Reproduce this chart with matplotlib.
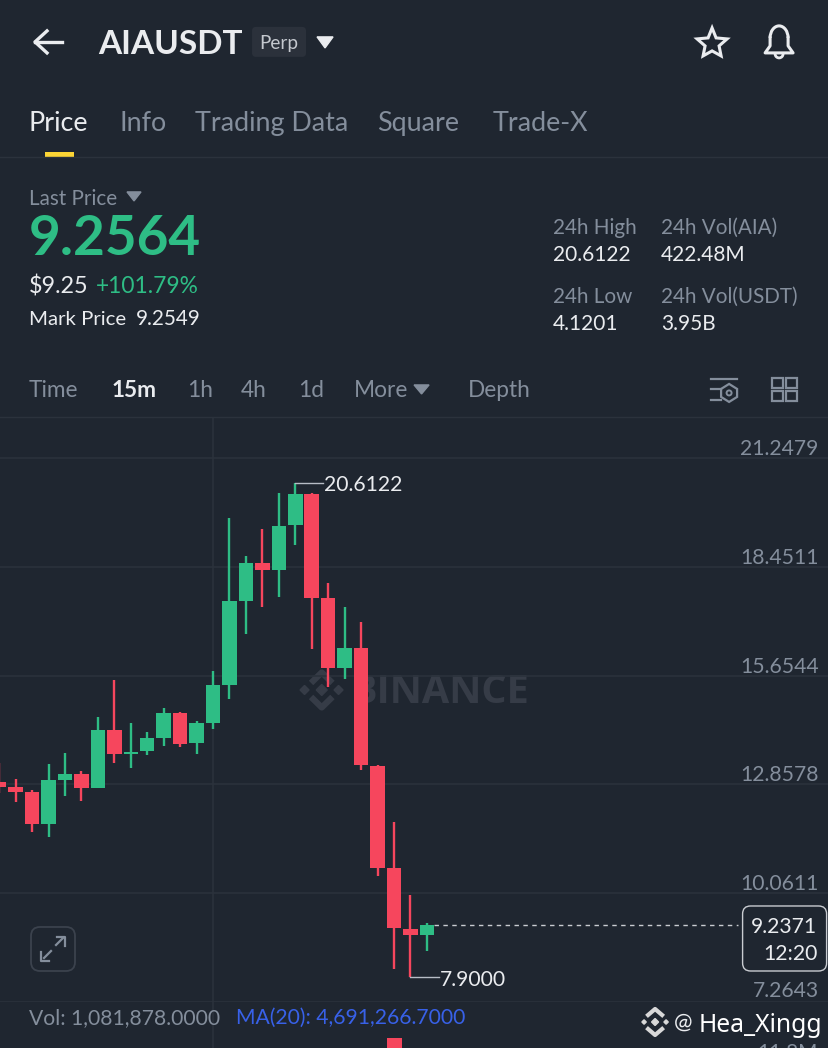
import matplotlib
matplotlib.use("Agg")
import matplotlib.pyplot as plt
from matplotlib.patches import Rectangle, FancyBboxPatch, Polygon, Circle, Arc

BG = "#1f2630"
GREEN = "#2ebd85"
RED = "#f6465d"
GRID = "#2b323c"
MUTED = "#848e9c"
WHITE = "#eaecef"
WM = "#363c47"
plt.rcParams["font.family"] = ["Lato", "DejaVu Sans"]

opens = [12.927, 12.799, 12.655, 11.848, 12.979, 13.133, 12.765, 14.264, 13.632, 13.709, 14.043, 14.693, 13.914,
         14.436, 15.413, 17.580, 18.541, 18.361, 19.518, 20.323, 17.642, 15.850, 16.356, 13.338, 10.701, 9.133, 8.987]
closes = [12.799, 12.655, 11.848, 12.979, 13.133, 12.765, 14.264, 13.639, 13.698, 14.043, 14.685, 13.904, 14.428,
          15.413, 17.564, 18.557, 18.361, 19.508, 20.330, 17.649, 15.850, 16.372, 13.344, 10.709, 9.159, 8.979, 9.2371]
highs = [13.408, 12.997, 12.714, 13.382, 13.657, 13.202, 14.598, 15.549, 14.444, 14.213, 14.829, 14.711, 14.488,
         15.773, 19.706, 18.737, 19.431, 20.341, 20.6122, 20.341, 18.043, 17.426, 17.025, 13.364, 11.884, 10.007, 9.303]
lows = [12.637, 12.398, 11.626, 11.498, 12.567, 12.431, 12.765, 13.400, 13.272, 13.614, 13.853, 13.819, 13.647,
        14.290, 15.061, 16.716, 17.426, 17.667, 19.012, 16.346, 15.354, 15.559, 13.236, 10.496, 8.105, 7.9000, 8.568]
price_ticks = [21.2479, 18.4511, 15.6544, 12.8578, 10.0611, 7.2643]
last_price = 9.2371
tabs = ["Price", "Info", "Trading Data", "Square", "Trade-X"]
intervals = ["Time", "15m", "1h", "4h", "1d", "More", "Depth"]

W, H = 828, 1048
fig = plt.figure(figsize=((W + 0.1) / 100, (H + 0.1) / 100), dpi=100, facecolor=BG)

# pixel-space overlay for the app chrome
ui = fig.add_axes([0, 0, 1, 1], zorder=1)
ui.set_xlim(0, W)
ui.set_ylim(H, 0)
ui.axis("off")
ui.set_facecolor("none")

# price chart
PX = 0.025705
top_px, bot_px = 418, 1002
ax = fig.add_axes([0, 1 - bot_px / H, 1, (bot_px - top_px) / H], zorder=2)
ax.patch.set_alpha(0)
ax.set_ylim(price_ticks[-1], price_ticks[0] + (458 - top_px) * PX)
STEP = 16.45
ax.set_xlim(13 - 213 / STEP, 13 + (W - 213) / STEP)
for s in ax.spines.values():
    s.set_visible(False)
ax.tick_params(length=0, labelleft=False, labelbottom=False)
ax.set_yticks(price_ticks)
ax.grid(True, axis="y", color=GRID, lw=1.2)
ax.set_xticks([13])
ax.grid(True, axis="x", color=GRID, lw=1.2)
ax.set_axisbelow(True)

# watermark
ui.text(350, 692, "BINANCE", color=WM, fontsize=28.5, fontweight="bold", ha="left", va="center",
        family=["Open Sans", "DejaVu Sans"])
for cx, cy, r in [(321.7, 690, 5.5), (304.5, 690, 4.5), (338.5, 690, 4.5)]:
    ui.add_patch(Polygon([(cx - r, cy), (cx, cy - r), (cx + r, cy), (cx, cy + r)], closed=True, color=WM))
ui.plot([311, 321.7, 332.4], [683, 672.5, 683], color=WM, lw=4.5, solid_capstyle="butt")
ui.plot([311, 321.7, 332.4], [697, 707.5, 697], color=WM, lw=4.5, solid_capstyle="butt")

for i, (o, c, h, l) in enumerate(zip(opens, closes, highs, lows)):
    col = GREEN if c >= o else RED
    ax.vlines(i, l, h, color=col, lw=1.7, zorder=3)
    ax.add_patch(Rectangle((i - 0.44, min(o, c)), 0.88, abs(c - o), color=col, lw=0, zorder=4))

# current price line
ax.hlines(last_price, 26.45, 13 + (738 - 213) / STEP, color="#c9ccd1", lw=1, linestyles=(0, (3.2, 3.2)), zorder=3)

# high / low annotations
ax.plot([18, 19.68], [max(highs)] * 2, color="#b7bdc6", lw=1, zorder=3)
ax.plot([25, 26.75], [min(lows)] * 2, color="#b7bdc6", lw=1, zorder=3)
ax.annotate(f"{max(highs):.4f}", (19.72, max(highs)), xytext=(0, -2.5), textcoords="offset pixels",
            color=WHITE, fontsize=15.2, va="center", ha="left", zorder=5)
ax.annotate(f"{min(lows):.4f}", (26.78, min(lows)), xytext=(0, -2.5), textcoords="offset pixels",
            color=WHITE, fontsize=15.2, va="center", ha="left", zorder=5)

# axis price labels sit above their gridlines
for p in price_ticks:
    off = 11.5 if p == price_ticks[-1] else 9
    ax.annotate(f"{p:.4f}", (1, p), xycoords=("axes fraction", "data"), xytext=(-9.5, off), textcoords="offset pixels",
                color=MUTED, fontsize=15.2, ha="right", va="center", zorder=5)

# current price box
ui.add_patch(FancyBboxPatch((742.5, 906), 84, 65, boxstyle="round,pad=0,rounding_size=8", fc=BG, ec="#c9ccd1", lw=1, zorder=6))
ui.text(817, 927, f"{last_price:.4f}", color=WHITE, fontsize=15.2, ha="right", va="center", zorder=7)
ui.text(818, 954, "12:20", color=WHITE, fontsize=15.2, ha="right", va="center", zorder=7)

# header
ui.plot([35, 62], [42, 42], color=WHITE, lw=2.4)
ui.plot([47, 35, 47], [31, 42, 53], color=WHITE, lw=2.4)
ui.text(98, 44.5, "AIAUSDT", color=WHITE, fontsize=24, fontweight="bold", va="center")
ui.add_patch(FancyBboxPatch((252, 27), 54, 30, boxstyle="round,pad=0,rounding_size=4", fc="#2b313b", ec="none"))
ui.text(278.5, 43.5, "Perp", color="#c4c8ce", fontsize=13.6, ha="center", va="center")
ui.add_patch(Polygon([(317, 37), (333, 37), (325, 48)], closed=True, color=WHITE))
star = [(712, 28), (716, 38), (727, 39), (719, 46), (721, 56), (712, 51), (703, 56), (705, 46), (697, 39), (708, 38)]
ui.add_patch(Polygon(star, closed=True, fc="none", ec=WHITE, lw=2.2))
ui.add_patch(Arc((779, 38), 18, 24, theta1=180, theta2=360, color=WHITE, lw=2.2))
ui.plot([770, 770, 765, 793, 788, 788], [38, 46, 53, 53, 46, 38], color=WHITE, lw=2.2)
ui.add_patch(Arc((779, 54), 8, 8, theta1=0, theta2=180, color=WHITE, lw=2))

# tabs
tab_x = [28, 119, 195, 377, 493]
for t, x, col in zip(tabs, tab_x, [WHITE] + [MUTED] * 4):
    ui.text(x, 123.5, t, color=col, fontsize=19.4, va="center", ha="left")
ui.add_patch(Rectangle((45, 152), 29, 5, color="#fcd535", lw=0))
ui.plot([0, W], [157.5, 157.5], color=GRID, lw=1)

# summary
ui.text(29, 198.5, "Last Price", color=MUTED, fontsize=14.9, va="center")
ui.add_patch(Polygon([(127, 192), (141, 192), (134, 201)], closed=True, color=MUTED))
ui.text(29, 239, "9.2564", color=GREEN, fontsize=39.5, fontweight="bold", va="center")
ui.text(29, 286, "$9.25", color=WHITE, fontsize=16.8, va="center")
ui.text(96, 286, "+101.79%", color=GREEN, fontsize=16.4, va="center")
ui.text(29, 319, "Mark Price", color=WHITE, fontsize=14.7, va="center")
ui.text(136, 319, "9.2549", color=WHITE, fontsize=14.9, va="center")
for x, y, label, val in [(553, 228, "24h High", "20.6122"), (661, 228, "24h Vol(AIA)", "422.48M"),
                         (553, 297, "24h Low", "4.1201"), (661, 297, "24h Vol(USDT)", "3.95B")]:
    ui.text(x, y, label, color=MUTED, fontsize=14.9, va="center")
    ui.text(x, y + 27, val, color=WHITE, fontsize=15, va="center")

# interval bar
int_x = [29, 112, 187, 241, 298, 354, 468]
for t, x in zip(intervals, int_x):
    ui.text(x, 390.5, t, color=WHITE if t == "15m" else MUTED, fontsize=16.3, va="center",
            fontweight="bold" if t == "15m" else "normal")
ui.add_patch(Polygon([(414, 385), (429, 385), (421.5, 394)], closed=True, color=MUTED))
ui.plot([0, W], [417.5, 417.5], color=GRID, lw=1)
ui.plot([711, 737], [379, 379], color=MUTED, lw=1.6)
ui.plot([711, 721], [389, 389], color=MUTED, lw=1.6)
ui.plot([711, 721], [400, 400], color=MUTED, lw=1.6)
ui.add_patch(Polygon([(729, 384), (737, 389), (737, 397), (729, 402), (721, 397), (721, 389)], closed=True, fc="none", ec=MUTED, lw=1.6))
ui.add_patch(Circle((729, 393), 2.5, fc="none", ec=MUTED, lw=1.4))
for gx, gy in [(772, 378), (786, 378), (772, 391), (786, 391)]:
    ui.add_patch(Rectangle((gx, gy), 10.5, 10, fc="none", ec=MUTED, lw=1.6))

# expand button
ui.add_patch(FancyBboxPatch((31, 927), 44, 44, boxstyle="round,pad=0,rounding_size=9", fc=BG, ec="#3b424d", lw=1.3, zorder=6))
ui.plot([44, 51], [958, 951], color=MUTED, lw=1.6, zorder=7)
ui.plot([56, 63], [945, 938], color=MUTED, lw=1.6, zorder=7)
ui.plot([41, 41, 49], [952, 961, 961], color=MUTED, lw=1.6, zorder=7)
ui.plot([57, 65, 65], [937, 937, 946], color=MUTED, lw=1.6, zorder=7)

# volume legend
ui.plot([213, 213], [1002, H], color=GRID, lw=1.2)
ui.text(29, 1018, "Vol: 1,081,878.0000", color=MUTED, fontsize=15.2, va="center")
ui.text(236, 1018, "MA(20): 4,691,266.7000", color="#3861e8", fontsize=15.2, va="center")
ui.add_patch(Rectangle((387, 1038), 14.5, 10, color=RED, lw=0))
ui.text(818, 1053, "11.8M", color=MUTED, fontsize=15, ha="right", va="center")

# watermark handle
ui.text(674, 1023, "@", color=WHITE, fontsize=16, va="center")
ui.text(699, 1025, "Hea_Xingg", color="white", fontsize=17.8, va="center", family=["Noto Sans", "DejaVu Sans"])
for cx, cy, r in [(655, 1022, 3.5), (644, 1022, 2.2), (666, 1022, 2.2)]:
    ui.add_patch(Polygon([(cx - r, cy), (cx, cy - r), (cx + r, cy), (cx, cy + r)], closed=True, color="#d8d8d8"))
ui.plot([648, 655, 662], [1015, 1009, 1015], color="#d8d8d8", lw=3)
ui.plot([648, 655, 662], [1029, 1035, 1029], color="#d8d8d8", lw=3)

fig.savefig("out.png", dpi=100, facecolor=BG)
